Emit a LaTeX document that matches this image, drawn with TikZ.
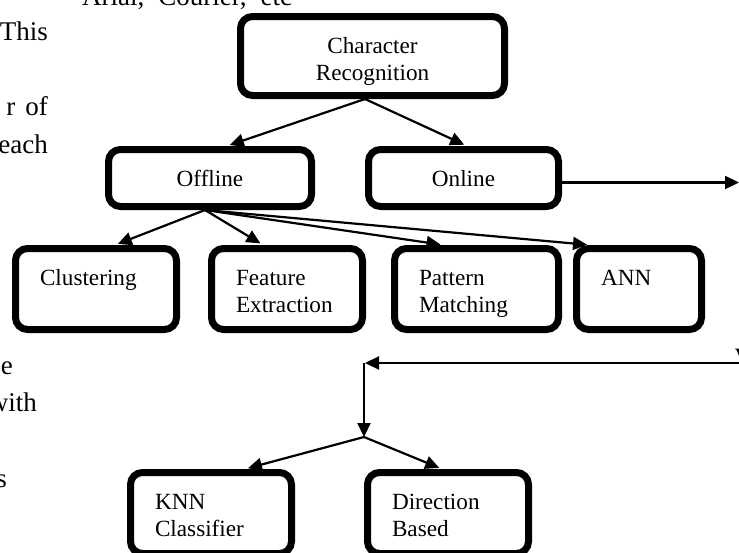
\documentclass[tikz,border=0pt]{standalone}
\usepackage{fontspec}
\setmainfont{Liberation Serif}
\usepackage{tikz}
\usetikzlibrary{arrows.meta,positioning}
\newcommand{\figtext}{\fontsize{23.2}{26.5}\selectfont}
\newcommand{\runtext}{\fontsize{27}{37.5}\selectfont}

\begin{document}
\begin{tikzpicture}[
  x=1pt,y=-1pt,
  box/.style={draw,line width=7pt,rounded corners=12pt,inner xsep=24.5pt,
              inner ysep=0pt,text height=37pt,font=\figtext,align=left},
  head/.style={box,align=center,text depth=20pt},
  leaf/.style={box,text depth=44pt},
  txt/.style={font=\runtext,inner sep=0pt},
  ar/.style={-{Triangle[length=14pt,width=13pt]},line width=2.2pt,shorten >=3pt}
]
\useasboundingbox (0,0) rectangle (739,552);

\node[head,text depth=42pt,text width=215pt] (cr) at (372.5,56) {Character\\Recognition};
\node[head,text width=154pt] (off) at (210,178) {Offline};
\node[head,text width=141pt] (on) at (463.5,178) {Online};

\node[leaf,text width=112pt] (clu) at (96,289) {Clustering};
\node[leaf,text width=102pt] (feat) at (287,289) {Feature\\Extraction};
\node[leaf,text width=115pt] (pat) at (476.5,289) {Pattern\\Matching};
\node[leaf,text width=76pt] (ann) at (639,289) {ANN};

\node[leaf,text width=112pt] (knn) at (211,513) {KNN\\Classifier};
\node[leaf,text width=112pt] (dir) at (448,513) {Direction\\Based};

% ends of the connectors
\coordinate (crout) at ([xshift=-7.5pt]cr.south);
\coordinate (offout) at ([xshift=-5pt]off.south);
\coordinate (rimA) at (742,182.5);
\coordinate (rimB) at (742,363);
\coordinate (turn) at (364,363);
\coordinate (split) at (364,437);

\draw[ar] (crout)--([xshift=17pt]off.north); \draw[ar] (crout)--([xshift=3.5pt]on.north);
\draw[ar] (offout)--([xshift=19pt]clu.north); \draw[ar] (offout)--([xshift=-24pt]feat.north);
\draw[ar] (offout)--([xshift=-33pt]pat.north); \draw[ar] (offout)--([xshift=-49pt]ann.north);
\draw[ar] ([yshift=-4.5pt]on.east)--(rimA);
\draw[ar,shorten >=1pt] (rimB)--(turn); \draw[ar,shorten >=0pt] (turn)--(split);
\draw[ar] (split)--([xshift=34pt]knn.north); \draw[ar] (split)--([xshift=-6pt]dir.north);

% running text round the figure
\node[txt,anchor=base west] (fonts) at (82,5) {Arial,\hspace{14pt}Courier,\hspace{14pt}etc};
\node[txt,anchor=base east] (this) at (48,40) {This};
\node[txt,anchor=base east] (rof) at (48,115) {r\hspace{10pt}of};
\node[txt,anchor=base east] (each) at (48,153) {each};
\node[txt,anchor=base east] (e) at (13,374) {e};
\node[txt,anchor=base east] (with) at (37,411) {with};
\node[txt,anchor=base east] (s) at (7,487) {s};
\node[txt,anchor=base west] (v) at (735,361) {v};
\end{tikzpicture}
\end{document}
